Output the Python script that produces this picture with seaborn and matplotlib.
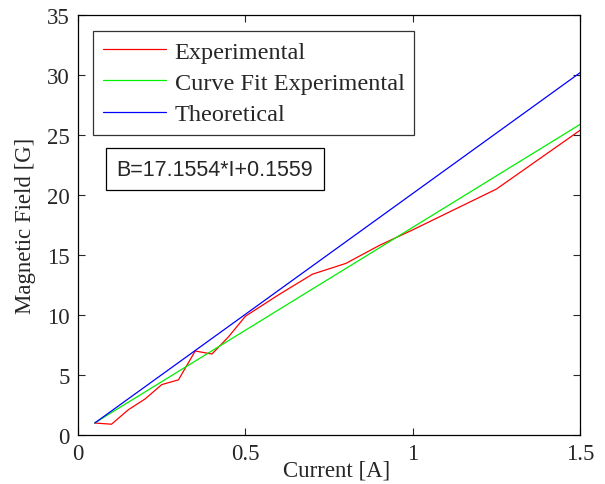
import numpy as np
import pandas as pd
import matplotlib
matplotlib.use("Agg")
import matplotlib.pyplot as plt
import seaborn as sns

# Measured field vs. coil current
current_exp = [0.05, 0.10, 0.15, 0.20, 0.25, 0.30, 0.35, 0.40, 0.45, 0.50,
               0.60, 0.70, 0.80, 0.90, 1.00, 1.25, 1.50]
field_exp = [1.0, 0.9, 2.1, 3.0, 4.2, 4.6, 7.0, 6.75, 8.2, 9.9,
             11.7, 13.4, 14.3, 15.8, 17.1, 20.5, 25.4]

# Linear fit of the measurements: B = slope*I + intercept
fit_slope = 17.1554
fit_intercept = 0.1559
current_fit = [0.05, 1.50]
field_fit = [fit_slope * i + fit_intercept for i in current_fit]

# Theoretical prediction
current_theory = [0.05, 1.50]
field_theory = [1.0, 30.2]

series_names = ["Experimental", "Curve Fit Experimental", "Theoretical"]
series_colors = ["#ff0000", "#00ee00", "#0000ff"]

df = pd.concat([
    pd.DataFrame({"I": current_exp, "B": field_exp, "s": series_names[0]}),
    pd.DataFrame({"I": current_fit, "B": field_fit, "s": series_names[1]}),
    pd.DataFrame({"I": current_theory, "B": field_theory, "s": series_names[2]}),
], ignore_index=True)

sns.set_style("ticks")
plt.rcParams["font.family"] = ["Liberation Serif", "DejaVu Serif"]
plt.rcParams["xtick.direction"] = "in"
plt.rcParams["ytick.direction"] = "in"

fig = plt.figure(figsize=(6.05, 4.85), dpi=100)
ax = fig.add_axes([0.129, 0.101, 0.830, 0.866])

sns.lineplot(data=df, x="I", y="B", hue="s", hue_order=series_names,
             palette=series_colors, sort=False, estimator=None,
             linewidth=0.9, ax=ax)

ax.set_xlim(0, 1.5)
ax.set_ylim(0, 35)
ax.set_xticks([0, 0.5, 1, 1.5])
ax.set_xticklabels(["0", "0.5", "1", "1.5"])
ax.set_yticks(range(0, 36, 5))
ax.tick_params(axis="both", labelsize=16.5, length=5, width=0.8,
               top=True, right=True, pad=6)
for sp in ax.spines.values():
    sp.set_linewidth(0.9)
    sp.set_color("black")

ax.set_xlabel("Current [A]", fontsize=16.5)
ax.xaxis.set_label_coords(0.515, -0.058)
ax.set_ylabel("Magnetic Field [G]", fontsize=16.5, labelpad=8)

leg = ax.legend(loc="upper left", bbox_to_anchor=(0.030, 0.962),
                fontsize=17.5, frameon=True, fancybox=False,
                handlelength=2.6, handletextpad=0.35, labelspacing=0.38,
                borderpad=0.4, borderaxespad=0)
leg.get_frame().set_edgecolor("black")
leg.get_frame().set_linewidth(0.9)
for h in leg.get_lines():
    h.set_linewidth(0.9)

ax.text(0.077, 0.633, f"B={fit_slope}*I+{fit_intercept}", transform=ax.transAxes,
        fontsize=15.5, family=["Liberation Sans", "DejaVu Sans"],
        ha="left", va="center",
        bbox=dict(boxstyle="square,pad=0.5", facecolor="white",
                  edgecolor="black", linewidth=0.9))

fig.savefig("out.png", dpi=100)
